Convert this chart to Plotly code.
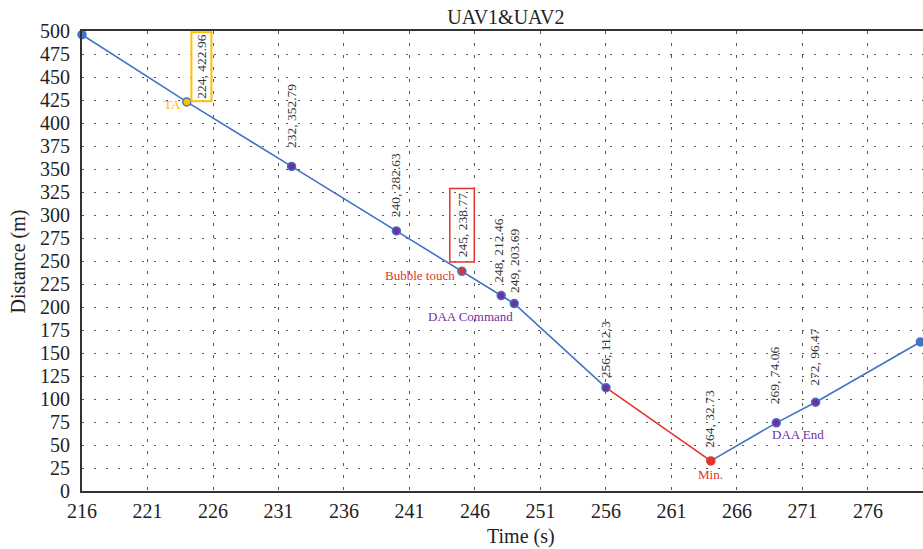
import plotly.graph_objects as go

# ---- data ----
time_s = [216, 224, 232, 240, 245, 248, 249, 256, 264, 269, 272, 280]
distance_m = [496, 422.96, 352.79, 282.63, 238.77, 212.46, 203.69, 112.3, 32.73, 74.06, 96.47, 162]
x_ticks = [216, 221, 226, 231, 236, 241, 246, 251, 256, 261, 266, 271, 276]
y_ticks = list(range(0, 501, 25))

BLUE = "#4472C4"
RED = "#E2342B"
PURPLE = "#7030A0"
GOLD = "#FFC000"
SERIF = "Liberation Serif"

marker_fill = [BLUE, GOLD, PURPLE, PURPLE, RED, PURPLE, PURPLE, PURPLE, RED, PURPLE, PURPLE, BLUE]
marker_ring = [BLUE, BLUE, BLUE, BLUE, BLUE, BLUE, BLUE, BLUE, RED, BLUE, BLUE, BLUE]

fig = go.Figure()
# line segments: blue up to 256, red 256-264, blue after
i256 = time_s.index(256)
i264 = time_s.index(264)
segments = [(0, i256, BLUE), (i256, i264, RED), (i264, len(time_s) - 1, BLUE)]
for a, b, c in segments:
    fig.add_trace(go.Scatter(x=time_s[a:b + 1], y=distance_m[a:b + 1], mode="lines",
                             line=dict(color=c, width=1.6), showlegend=False, hoverinfo="skip",
                             cliponaxis=False))
fig.add_trace(go.Scatter(x=time_s, y=distance_m, mode="markers", showlegend=False, cliponaxis=False,
                         marker=dict(size=8, color=marker_fill,
                                     line=dict(color=marker_ring, width=1.5))))

# rotated data labels (xshift, yshift, border colour, border pad) — layout offsets
label_style = {
    224: (15, 0, GOLD, 1.5),
    232: (0, 16, None, 1),
    240: (0, 12, None, 1),
    245: (0, 9, RED, 4),
    248: (-3, 11, None, 1),
    249: (0, 9, None, 1),
    256: (-1, 8, None, 1),
    264: (-1, 11, None, 1),
    269: (-1, 17, None, 1),
    272: (-1, 14, None, 1),
}
for t, d in zip(time_s, distance_m):
    if t not in label_style:
        continue
    xs, ys, bc, pad = label_style[t]
    ann = dict(x=t, y=d, xref="x", yref="y", text=f"{t}, {d:g}", showarrow=False,
               textangle=-90, xanchor="center", yanchor="bottom", xshift=xs, yshift=ys,
               borderpad=pad, font=dict(family=SERIF, size=13.5, color="#383838"))
    if bc:
        ann.update(bordercolor=bc, borderwidth=2 if bc == GOLD else 1.5)
    fig.add_annotation(**ann)

# event labels
events = [
    (224, "TA", GOLD, "right", "middle", -4, -3),
    (245, "Bubble touch", RED, "right", "middle", -5, -4),
    (249, "DAA Command", PURPLE, "right", "middle", 1, -13),
    (264, "Min.", RED, "center", "middle", 0, -14),
    (269, "DAA End", PURPLE, "left", "middle", -6, -12),
]
for t, txt, col, xa, ya, xs, ys in events:
    d = distance_m[time_s.index(t)]
    fig.add_annotation(x=t, y=d, text=txt, showarrow=False, xanchor=xa, yanchor=ya,
                       xshift=xs, yshift=ys, font=dict(family=SERIF, size=13, color=col))

# axis titles
fig.add_annotation(text="Time (s)", xref="paper", yref="paper", x=0.522, y=-0.098,
                   showarrow=False, xanchor="center", yanchor="middle",
                   font=dict(family=SERIF, size=20, color="#222"))
fig.add_annotation(text="Distance (m)", xref="paper", yref="paper", x=-0.0755, y=0.498,
                   showarrow=False, xanchor="center", yanchor="middle", textangle=-90,
                   font=dict(family=SERIF, size=20, color="#222"))

fig.update_layout(
    width=923, height=549,
    margin=dict(l=82, r=0, t=31, b=58),
    paper_bgcolor="white", plot_bgcolor="white",
    title=dict(text="UAV1&UAV2", x=0.504, xref="paper", y=1 - 16.5 / 549, yref="container",
               xanchor="center", yanchor="middle",
               font=dict(family=SERIF, size=20, color="#222")),
    font=dict(family=SERIF, color="#222"),
)
fig.update_xaxes(range=[216, 280.2], tickvals=x_ticks, ticktext=[str(v) for v in x_ticks],
                 showline=True, linecolor="#333", linewidth=2, mirror=True,
                 showgrid=True, gridcolor="#555", gridwidth=1, griddash="3px,9px",
                 zeroline=False, ticks="", ticklabelstandoff=1,
                 tickfont=dict(family=SERIF, size=20, color="#222"))
fig.update_yaxes(range=[0, 500], tickvals=y_ticks, ticktext=[str(v) for v in y_ticks],
                 showline=True, linecolor="#333", linewidth=2,
                 showgrid=True, gridcolor="#555", gridwidth=1, griddash="2px,10px",
                 zeroline=False, ticks="", ticklabelstandoff=6,
                 tickfont=dict(family=SERIF, size=20, color="#222"))

# remove the page's default 8px body margin so the figure fills the window exactly
fig.write_html("out.html", config={"displayModeBar": False},
               post_script="document.body.style.margin='0px';document.body.style.overflow='hidden';")
